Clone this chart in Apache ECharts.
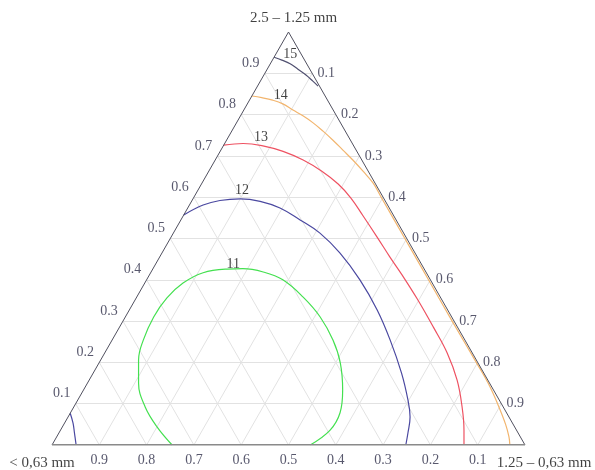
<!DOCTYPE html>
<html>
<head>
<meta charset="utf-8">
<script src="https://cdn.jsdelivr.net/npm/echarts@6/dist/echarts.min.js"></script>
<style>
html,body{margin:0;padding:0;background:#fff;}
#chart{width:595px;height:470px;}
</style>
</head>
<body>
<div id="chart"></div>
<script>
// ternary points are [top fraction (2.5-1.25), right fraction (1.25-0.63)]
var ticks = [0.1, 0.2, 0.3, 0.4, 0.5, 0.6, 0.7, 0.8, 0.9];
var axisNames = ['2.5 \u2013 1.25 mm', '< 0,63 mm', '1.25 \u2013 0,63 mm'];
var levels = [11, 12, 13, 14, 15];
var levelColors = ['#44e050', '#4a48a0', '#ee5262', '#f2b56e', '#505070'];

var c11 = [[0.000,0.254],[0.044,0.200],[0.092,0.151],[0.150,0.108],[0.206,0.080],[0.254,0.066],
  [0.310,0.060],[0.356,0.065],[0.392,0.081],[0.417,0.111],[0.426,0.157],[0.427,0.190],[0.419,0.237],
  [0.400,0.288],[0.358,0.352],[0.310,0.412],[0.254,0.467],[0.199,0.510],[0.133,0.548],[0.078,0.570],
  [0.036,0.570],[0.000,0.546]];
var c12 = [[0.557,0.000],[0.581,0.029],[0.592,0.059],[0.596,0.100],[0.590,0.145],[0.574,0.195],
  [0.545,0.252],[0.513,0.310],[0.465,0.376],[0.400,0.451],[0.327,0.524],[0.254,0.588],[0.174,0.652],
  [0.109,0.698],[0.068,0.723],[0.029,0.738],[0.000,0.748]];
var c12corner = [[0.077,0.000],[0.053,0.018],[0.029,0.033],[0.000,0.051]];
var c13 = [[0.726,0.000],[0.730,0.039],[0.725,0.081],[0.711,0.133],[0.690,0.186],[0.663,0.239],
  [0.632,0.289],[0.598,0.333],[0.555,0.380],[0.504,0.435],[0.455,0.487],[0.412,0.534],[0.354,0.595],
  [0.286,0.663],[0.223,0.724],[0.157,0.778],[0.092,0.821],[0.036,0.853],[0.000,0.871]];
var c14 = [[0.845,0.000],[0.841,0.023],[0.835,0.049],[0.826,0.075],[0.811,0.104],[0.797,0.132],
  [0.780,0.162],[0.760,0.193],[0.738,0.225],[0.714,0.258],[0.690,0.291],[0.663,0.326],[0.634,0.362],
  [0.600,0.396],[0.500,0.496],[0.400,0.596],[0.300,0.696],[0.200,0.797],[0.150,0.847],[0.100,0.892],
  [0.050,0.934],[0.020,0.956],[0.000,0.968]];
var c15 = [[0.939,0.000],[0.932,0.020],[0.923,0.042],[0.910,0.065],[0.896,0.089],[0.881,0.111],[0.869,0.128]];
// where each level number is written
var levelLabelAt = [[0.438,0.164],[0.617,0.093],[0.746,0.069],[0.847,0.060],[0.947,0.030]];

function tern(t, r) { return [r + t / 2, t]; }

var gridData = [];
ticks.forEach(function (v) {
  gridData.push({coords: [tern(v, 0), tern(v, 1 - v)]});
  gridData.push({coords: [tern(0, v), tern(1 - v, v)]});
  gridData.push({coords: [tern(0, 1 - v), tern(1 - v, 0)]});
});

var edgeData = [
  {coords: [tern(0, 0), tern(1, 0)]},
  {coords: [tern(1, 0), tern(0, 1)]},
  {coords: [tern(0, 0), tern(0, 1)], lineStyle: {color: '#8a8a8a', width: 2}}
];

var font = 'Liberation Serif';
var tickColor = '#2e2e48';

function tickSeries(pts, offset) {
  return {
    type: 'scatter', symbolSize: 0, silent: true, z: 5,
    data: pts,
    label: {show: true, position: 'inside', offset: offset, formatter: '{b}',
      color: tickColor, fontFamily: font, fontSize: 14, align: 'center', verticalAlign: 'middle'}
  };
}

var series = [
  {type: 'lines', coordinateSystem: 'cartesian2d', silent: true, z: 1,
    lineStyle: {color: '#e2e2e2', width: 1, opacity: 1}, data: gridData},
  {type: 'lines', coordinateSystem: 'cartesian2d', silent: true, z: 4,
    lineStyle: {color: '#50505f', width: 1, opacity: 1}, data: edgeData},
  tickSeries(ticks.map(function (v) { return {name: String(v), value: tern(v, 0)}; }), [-14, -10]),
  tickSeries(ticks.map(function (v) { return {name: String(v), value: tern(1 - v, v)}; }), [14, 0]),
  tickSeries(ticks.map(function (v) { return {name: String(v), value: tern(0, 1 - v)}; }), [0, 15]),
  {type: 'scatter', symbolSize: 0, silent: true, z: 5,
    data: [
      {name: axisNames[0], value: tern(1, 0), label: {offset: [5, -14]}},
      {name: axisNames[1], value: tern(0, 0), label: {offset: [-10, 18]}},
      {name: axisNames[2], value: tern(0, 1), label: {offset: [19, 18]}}
    ],
    label: {show: true, position: 'inside', formatter: '{b}', color: '#111',
      fontFamily: font, fontSize: 15, align: 'center', verticalAlign: 'middle'}},
  {type: 'scatter', symbolSize: 0, silent: true, z: 6,
    data: levels.map(function (lv, i) {
      return {name: String(lv), value: tern(levelLabelAt[i][0], levelLabelAt[i][1])};
    }),
    label: {show: true, position: 'inside', formatter: '{b}', color: '#111',
      fontFamily: font, fontSize: 14, align: 'center', verticalAlign: 'middle'}}
];

var contours = [[c11], [c12, c12corner], [c13], [c14], [c15]];
contours.forEach(function (parts, i) {
  parts.forEach(function (pts) {
    series.push({
      type: 'line', smooth: 0.4, showSymbol: false, silent: true, z: 3,
      data: pts.map(function (p) { return tern(p[0], p[1]); }),
      lineStyle: {color: levelColors[i], width: 1.2}
    });
  });
});

var chart = echarts.init(document.getElementById('chart'));
chart.setOption({
  animation: false,
  backgroundColor: '#fff',
  grid: {left: 52, right: 70, top: 32, bottom: 25},
  xAxis: {type: 'value', min: 0, max: 1, show: false},
  yAxis: {type: 'value', min: 0, max: 1, show: false},
  series: series
});
</script>
</body>
</html>
